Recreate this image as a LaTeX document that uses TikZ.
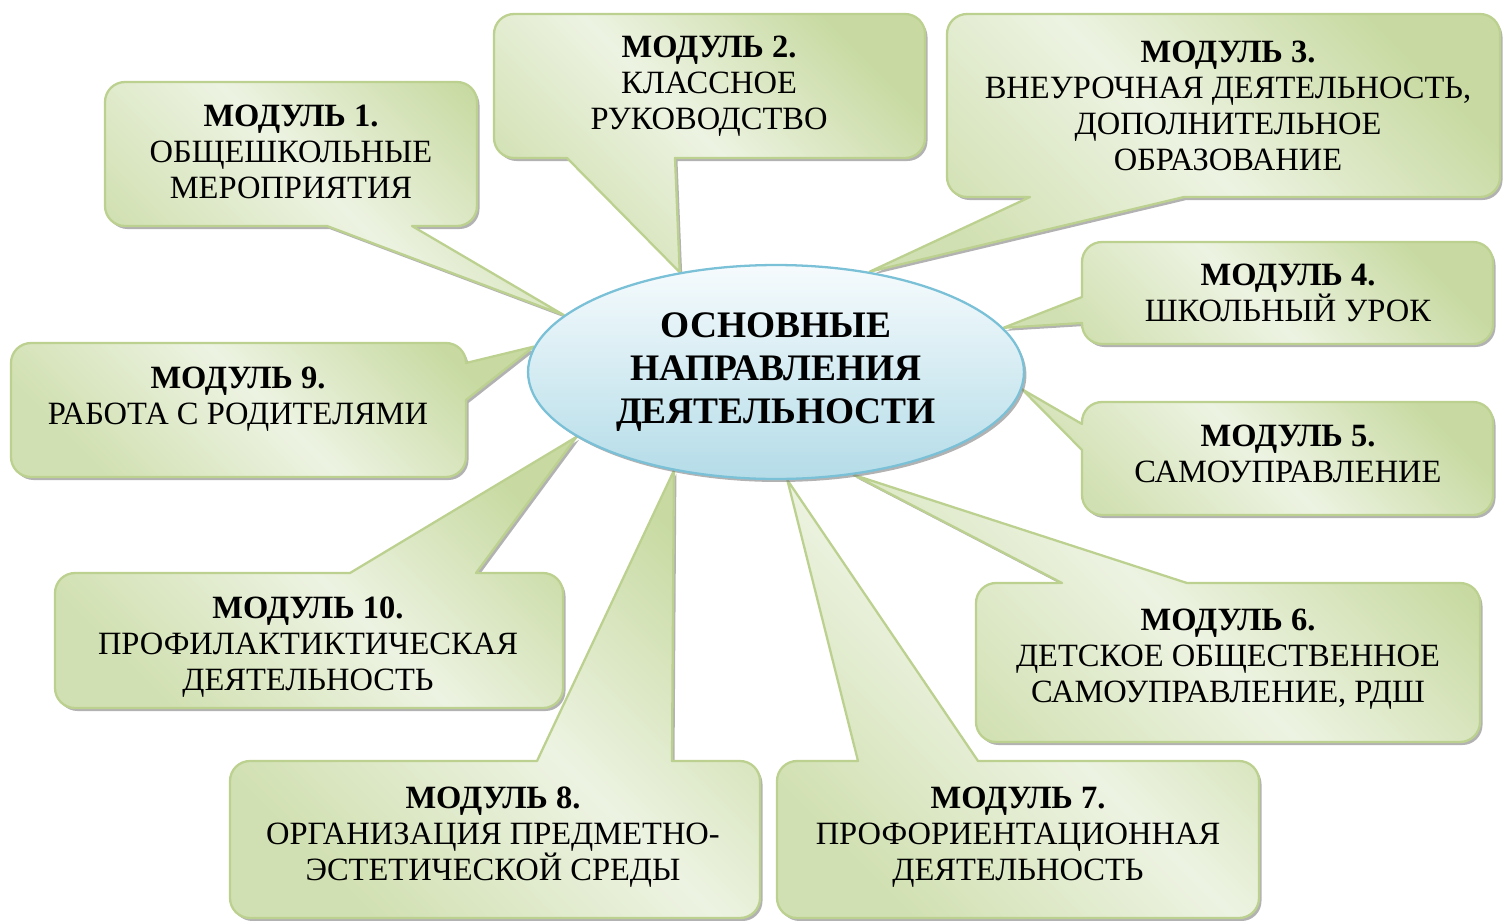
\documentclass[tikz,border=0pt]{standalone}
\usepackage{fontspec}
\setmainfont{Liberation Serif}
\usetikzlibrary{shapes.geometric,shadows,backgrounds}

\definecolor{leafdark}{RGB}{200,218,162}
\definecolor{leaflight}{RGB}{237,243,226}
\definecolor{leafline}{RGB}{188,209,143}
\definecolor{skylight}{RGB}{246,251,253}
\definecolor{skydark}{RGB}{180,220,232}
\definecolor{skyline}{RGB}{122,192,214}

\tikzset{
  bubble/.style={draw=leafline, line width=1.3pt, line join=round,
    top color=leafdark, bottom color=leafdark!75!leaflight, middle color=leaflight,
    shading angle=-45,
    drop shadow={shadow xshift=0.05cm, shadow yshift=-0.06cm, opacity=0.55, fill=black!55}},
  rc/.style={rounded corners=0.4cm},
  modtext/.style={align=center, inner sep=0pt, font=\fontsize{18.5}{20.5}\selectfont},
  core/.style={ellipse, draw=skyline, line width=1.3pt,
    top color=skylight, bottom color=skydark,
    minimum width=9.92cm, minimum height=4.28cm, inner sep=0pt,
    align=center, font=\fontsize{21.3}{24.3}\selectfont\bfseries,
    drop shadow={shadow xshift=0.05cm, shadow yshift=-0.06cm, opacity=0.55, fill=black!55}}
}

\begin{document}
\begin{tikzpicture}[x=0.02cm, y=-0.02cm]
  \useasboundingbox (0,0) rectangle (1503,920);

  % the central ellipse
  \node[core] (core) at (776,372) {ОСНОВНЫЕ\\НАПРАВЛЕНИЯ\\ДЕЯТЕЛЬНОСТИ};

  % the callouts, behind the ellipse, each pointing at it
  \begin{pgfonlayer}{background}
    \path[bubble] (105,154) [rc] -- (105,82) -- (477,82) -- (477,226) [sharp corners] -- (412,226)
      -- (core.165) -- (327,226) [rc] -- (105,226) -- cycle;
    \path[bubble] (494,86) [rc] -- (494,14) -- (925,14) -- (925,158) [sharp corners] -- (675,158)
      -- (core.134) -- (567,158) [rc] -- (494,158) -- cycle;
    \path[bubble] (947,105) [rc] -- (947,14) -- (1500,14) -- (1500,197) [sharp corners] -- (1184,197)
      -- (core.47) -- (1030,197) [rc] -- (947,197) -- cycle;
    \path[bubble] (1290,242) [rc] -- (1493,242) -- (1493,344) -- (1082,344) [sharp corners] -- (1082,323)
      -- (core.11) -- (1082,297) [rc] -- (1082,242) -- cycle;
    \path[bubble] (1290,402) [rc] -- (1493,402) -- (1493,515) -- (1082,515) [sharp corners] -- (1082,450)
      -- (core.-4) -- (1082,424) [rc] -- (1082,402) -- cycle;
    \path[bubble] (976,662) [rc] -- (976,583) [sharp corners] -- (1062,583)
      -- (core.-53.5) -- (1187,583) [rc] -- (1480,583) -- (1480,742) -- (976,742) -- cycle;
    \path[bubble] (777,840) [rc] -- (777,761) [sharp corners] -- (858,761)
      -- (core.-84) -- (978,761) [rc] -- (1259,761) -- (1259,918) -- (777,918) -- cycle;
    \path[bubble] (230,840) [rc] -- (230,761) [sharp corners] -- (537,761)
      -- (core.-136) -- (672,761) [rc] -- (760,761) -- (760,918) -- (230,918) -- cycle;
    \path[bubble] (11,410) [rc] -- (11,343) -- (466,343) [sharp corners] -- (466,363)
      -- (core.174) -- (466,400) [rc] -- (466,477) -- (11,477) -- cycle;
    \path[bubble] (55,640) [rc] -- (55,573) [sharp corners] -- (350,573)
      -- (core.-162) -- (476,573) [rc] -- (563,573) -- (563,708) -- (55,708) -- cycle;
  \end{pgfonlayer}

  % texts of the modules
  \node[modtext] (m1) at (291,152) {\textbf{МОДУЛЬ 1.}\\ОБЩЕШКОЛЬНЫЕ\\МЕРОПРИЯТИЯ};
  \node[modtext] (m2) at (709,86) {\textbf{МОДУЛЬ 2.}\\КЛАССНОЕ\\РУКОВОДСТВО};
  \node[modtext] (m3) at (1228,106) {\textbf{МОДУЛЬ 3.}\\ВНЕУРОЧНАЯ ДЕЯТЕЛЬНОСТЬ,\\ДОПОЛНИТЕЛЬНОЕ\\ОБРАЗОВАНИЕ};
  \node[modtext] (m4) at (1288,293) {\textbf{МОДУЛЬ 4.}\\ШКОЛЬНЫЙ УРОК};
  \node[modtext] (m5) at (1288,454) {\textbf{МОДУЛЬ 5.}\\САМОУПРАВЛЕНИЕ};
  \node[modtext] (m6) at (1228,659) {\textbf{МОДУЛЬ 6.}\\ДЕТСКОЕ ОБЩЕСТВЕННОЕ\\САМОУПРАВЛЕНИЕ, РДШ};
  \node[modtext] (m7) at (1018,837) {\textbf{МОДУЛЬ 7.}\\ПРОФОРИЕНТАЦИОННАЯ\\ДЕЯТЕЛЬНОСТЬ};
  \node[modtext] (m8) at (493,837) {\textbf{МОДУЛЬ 8.}\\ОРГАНИЗАЦИЯ ПРЕДМЕТНО-\\ЭСТЕТИЧЕСКОЙ СРЕДЫ};
  \node[modtext] (m9) at (238,399) {\textbf{МОДУЛЬ 9.}\\РАБОТА С РОДИТЕЛЯМИ};
  \node[modtext] (m10) at (308,647) {\textbf{МОДУЛЬ 10.}\\ПРОФИЛАКТИКТИЧЕСКАЯ\\ДЕЯТЕЛЬНОСТЬ};
\end{tikzpicture}
\end{document}
